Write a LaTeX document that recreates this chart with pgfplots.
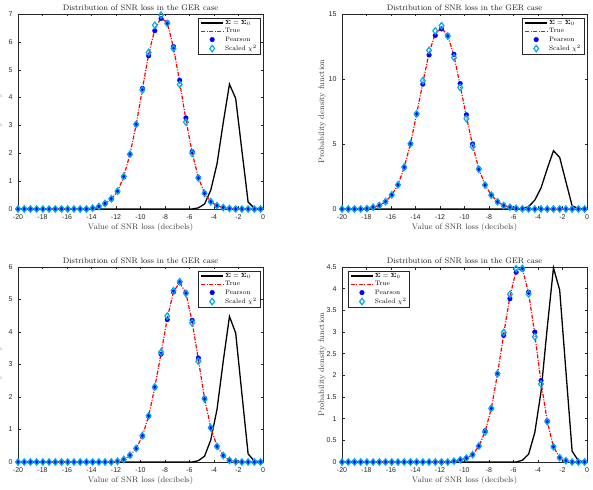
\documentclass[border=0pt]{standalone}
\usepackage[no-math]{fontspec}
\usepackage{pgfplots}
\usepackage{pgfplotstable}
\pgfplotsset{compat=1.18}
\newfontfamily\ticksf{Liberation Sans}

\definecolor{axgray}{gray}{0.15}
\definecolor{lblgray}{gray}{0.25}

% Sigma = Sigma_0 reference density (shared by all panels)
\pgfplotstableread{
x        y
-20.000  0
-19.492  0
-18.985  0
-18.477  0
-17.969  0
-17.462  0
-16.954  0
-16.446  0
-15.938  0
-15.431  0
-14.923  0
-14.415  0
-13.908  0
-13.400  0
-12.892  0
-12.385  0
-11.877  0
-11.369  0
-10.862  0
-10.354  0
-9.846   0
-9.338   0
-8.831   0
-8.323   0
-7.815   0
-7.308   0
-6.800   0
-6.292   0
-5.785   0
-5.277   0.04
-4.769   0.18
-4.262   0.68
-3.754   1.62
-3.246   3.10
-2.738   4.48
-2.231   3.97
-1.723   2.10
-1.215   0.25
-0.708   0.03
-0.200   0
}\tblRef

% panel (a)
\pgfplotstableread{
x        tru   prs   scl
-20.000  0     0     0
-19.492  0     0     0
-18.985  0     0     0
-18.477  0     0     0
-17.969  0     0     0
-17.462  0     0     0
-16.954  0     0     0
-16.446  0     0     0
-15.938  0     0     0
-15.431  0     0     0
-14.923  0     0     0
-14.415  0     0     0
-13.908  0.02  0.02  0.03
-13.400  0.08  0.08  0.09
-12.892  0.19  0.19  0.20
-12.385  0.36  0.35  0.37
-11.877  0.63  0.62  0.64
-11.369  1.16  1.15  1.17
-10.862  1.96  1.96  1.97
-10.354  3.03  3.03  3.04
-9.846   4.30  4.33  4.27
-9.338   5.55  5.50  5.62
-8.831   6.45  6.40  6.60
-8.323   6.87  6.84  6.96
-7.815   6.68  6.69  6.66
-7.308   5.80  5.83  5.76
-6.800   4.55  4.62  4.47
-6.292   3.20  3.27  3.12
-5.785   2.03  2.06  2.00
-5.277   1.12  1.13  1.11
-4.769   0.57  0.57  0.56
-4.262   0.26  0.26  0.26
-3.754   0.12  0.12  0.12
-3.246   0.05  0.05  0.05
-2.738   0.02  0.02  0.02
-2.231   0     0     0
-1.723   0     0     0
-1.215   0     0     0
-0.708   0     0     0
-0.200   0     0     0
}\tblA

% panel (b)
\pgfplotstableread{
x        tru    prs    scl
-20.000  0      0      0
-19.492  0      0      0
-18.985  0      0      0
-18.477  0      0      0
-17.969  0.03   0.03   0.03
-17.462  0.13   0.13   0.14
-16.954  0.26   0.26   0.27
-16.446  0.56   0.55   0.57
-15.938  1.08   1.07   1.09
-15.431  1.85   1.84   1.86
-14.923  3.20   3.20   3.22
-14.415  5.00   5.00   5.02
-13.908  7.30   7.30   7.32
-13.400  9.72   9.60   9.87
-12.892  12.00  11.85  12.20
-12.385  13.50  13.35  13.70
-11.877  13.92  13.85  14.10
-11.369  13.35  13.35  13.30
-10.862  11.80  11.90  11.65
-10.354  9.50   9.65   9.35
-9.846   7.10   7.25   6.95
-9.338   4.90   5.00   4.80
-8.831   3.08   3.10   3.05
-8.323   1.85   1.86   1.84
-7.815   1.07   1.08   1.06
-7.308   0.56   0.56   0.55
-6.800   0.27   0.27   0.26
-6.292   0.13   0.13   0.13
-5.785   0.05   0.05   0.05
-5.277   0.02   0.02   0.02
-4.769   0      0      0
-4.262   0      0      0
-3.754   0      0      0
-3.246   0      0      0
-2.738   0      0      0
-2.231   0      0      0
-1.723   0      0      0
-1.215   0      0      0
-0.708   0      0      0
-0.200   0      0      0
}\tblB

% panel (c)
\pgfplotstableread{
x        tru   prs   scl
-20.000  0     0     0
-19.492  0     0     0
-18.985  0     0     0
-18.477  0     0     0
-17.969  0     0     0
-17.462  0     0     0
-16.954  0     0     0
-16.446  0     0     0
-15.938  0     0     0
-15.431  0     0     0
-14.923  0     0     0
-14.415  0     0     0
-13.908  0     0     0
-13.400  0     0     0
-12.892  0     0     0
-12.385  0     0     0
-11.877  0.02  0.02  0.02
-11.369  0.07  0.07  0.08
-10.862  0.20  0.20  0.21
-10.354  0.41  0.41  0.42
-9.846   0.80  0.79  0.81
-9.338   1.41  1.41  1.42
-8.831   2.30  2.29  2.31
-8.323   3.34  3.32  3.38
-7.815   4.42  4.38  4.49
-7.308   5.24  5.23  5.27
-6.800   5.52  5.52  5.55
-6.292   5.20  5.21  5.19
-5.785   4.32  4.36  4.28
-5.277   3.15  3.20  3.10
-4.769   1.95  1.96  1.94
-4.262   1.06  1.06  1.05
-3.754   0.48  0.48  0.48
-3.246   0.20  0.20  0.20
-2.738   0.05  0.05  0.05
-2.231   0.01  0.01  0.01
-1.723   0     0     0
-1.215   0     0     0
-0.708   0     0     0
-0.200   0     0     0
}\tblC

% panel (d)
\pgfplotstableread{
x        tru   prs   scl
-20.000  0     0     0
-19.492  0     0     0
-18.985  0     0     0
-18.477  0     0     0
-17.969  0     0     0
-17.462  0     0     0
-16.954  0     0     0
-16.446  0     0     0
-15.938  0     0     0
-15.431  0     0     0
-14.923  0     0     0
-14.415  0     0     0
-13.908  0     0     0
-13.400  0     0     0
-12.892  0     0     0
-12.385  0     0     0
-11.877  0     0     0
-11.369  0     0     0
-10.862  0.02  0.02  0.02
-10.354  0.05  0.05  0.05
-9.846   0.09  0.09  0.09
-9.338   0.17  0.17  0.17
-8.831   0.36  0.36  0.37
-8.323   0.70  0.72  0.69
-7.815   1.23  1.23  1.24
-7.308   2.03  2.03  2.04
-6.800   2.95  2.92  2.99
-6.292   3.82  3.77  3.87
-5.785   4.42  4.38  4.46
-5.277   4.46  4.45  4.47
-4.769   3.90  3.92  3.88
-4.262   2.95  3.00  2.89
-3.754   1.84  1.88  1.80
-3.246   0.94  0.95  0.93
-2.738   0.35  0.35  0.35
-2.231   0.10  0.10  0.10
-1.723   0.03  0.03  0.03
-1.215   0     0     0
-0.708   0     0     0
-0.200   0     0     0
}\tblD

\pgfplotsset{
  every axis title shift=0pt,
  snr/.style={
    scale only axis, width=245pt, height=195pt,
    xmin=-20, xmax=0, xtick={-20,-18,...,0},
    tick align=inside, major tick length=2.5pt,
    axis line style={axgray, line width=0.4pt},
    tick style={axgray, line width=0.4pt},
    tick label style={font=\ticksf\fontsize{7}{8}\selectfont, text=axgray},
    /pgf/number format/assume math mode=true,
    /pgf/number format/fixed,
    xticklabel style={yshift=-2.5pt},
    yticklabel style={xshift=-2pt},
    title style={at={(axis description cs:0.5,1.032)}, anchor=center,
      font=\fontsize{8}{9}\selectfont, text=black!88, inner sep=0pt},
    xlabel style={at={(axis description cs:0.5,-0.0974)}, anchor=center,
      font=\fontsize{8}{9}\selectfont, text=lblgray, inner sep=0pt},
    ylabel style={at={(axis description cs:-0.0816,0.5)}, anchor=center,
      font=\fontsize{8}{9}\selectfont, text=lblgray, inner sep=0pt},
    title={Distribution of SNR loss in the GER case},
    xlabel={Value of SNR loss (decibels)},
    ylabel={Probability density function},
    clip=false,
    legend cell align=left,
    legend style={font=\fontsize{6.5}{7}\selectfont, draw=axgray,
      line width=0.4pt, inner xsep=2pt, inner ysep=1pt,
      nodes={inner sep=1.2pt}},
    legend image code/.code={\draw[mark repeat=2,mark phase=2,##1]
      plot coordinates {(0pt,0pt) (11pt,0pt) (22pt,0pt)};},
  },
  legNE/.style={legend style={at={(rel axis cs:0.988,0.98)}, anchor=north east}},
  legNW/.style={legend style={at={(rel axis cs:0.025,0.98)}, anchor=north west}},
  refline/.style={black, line width=1.3pt, no marks},
  trueline/.style={red, line width=1.2pt, no marks,
    dash pattern=on 4pt off 1.5pt on 1pt off 1.5pt},
  pearson/.style={only marks, blue, mark=*, mark size=2.3pt},
  scaled/.style={only marks, cyan, mark=diamond, mark size=3.2pt, line width=1.2pt},
}

\newcommand\snrcurves[1]{%
  \addplot[refline] table[x=x, y=y] {\tblRef};
  \addplot[trueline] table[x=x, y=tru] {#1};
  \addplot[pearson] table[x=x, y=prs] {#1};
  \addplot[scaled] table[x=x, y=scl] {#1};
  \legend{$\mathbf{\Sigma}=\mathbf{\Sigma}_0$, True, Pearson, Scaled $\chi^2$}%
}

\begin{document}
\begin{tikzpicture}
\fill[white] (0,0) rectangle (593pt,489pt);

\begin{axis}[snr, legNE, at={(18pt,280pt)}, anchor=south west,
  ymin=0, ymax=7, ytick={0,1,...,7}]
  \snrcurves{\tblA}
\end{axis}

\begin{axis}[snr, legNE, at={(342pt,280pt)}, anchor=south west,
  ymin=0, ymax=15, ytick={0,5,10,15}]
  \snrcurves{\tblB}
\end{axis}

\begin{axis}[snr, legNE, at={(18pt,27pt)}, anchor=south west,
  ymin=0, ymax=6, ytick={0,1,...,6}]
  \snrcurves{\tblC}
\end{axis}

\begin{axis}[snr, legNW, at={(342pt,27pt)}, anchor=south west,
  ymin=0, ymax=4.5, ytick={0,0.5,...,4.5}]
  \snrcurves{\tblD}
\end{axis}

\pgfresetboundingbox
\useasboundingbox (0,0) rectangle (593pt,489pt);
\end{tikzpicture}
\end{document}
